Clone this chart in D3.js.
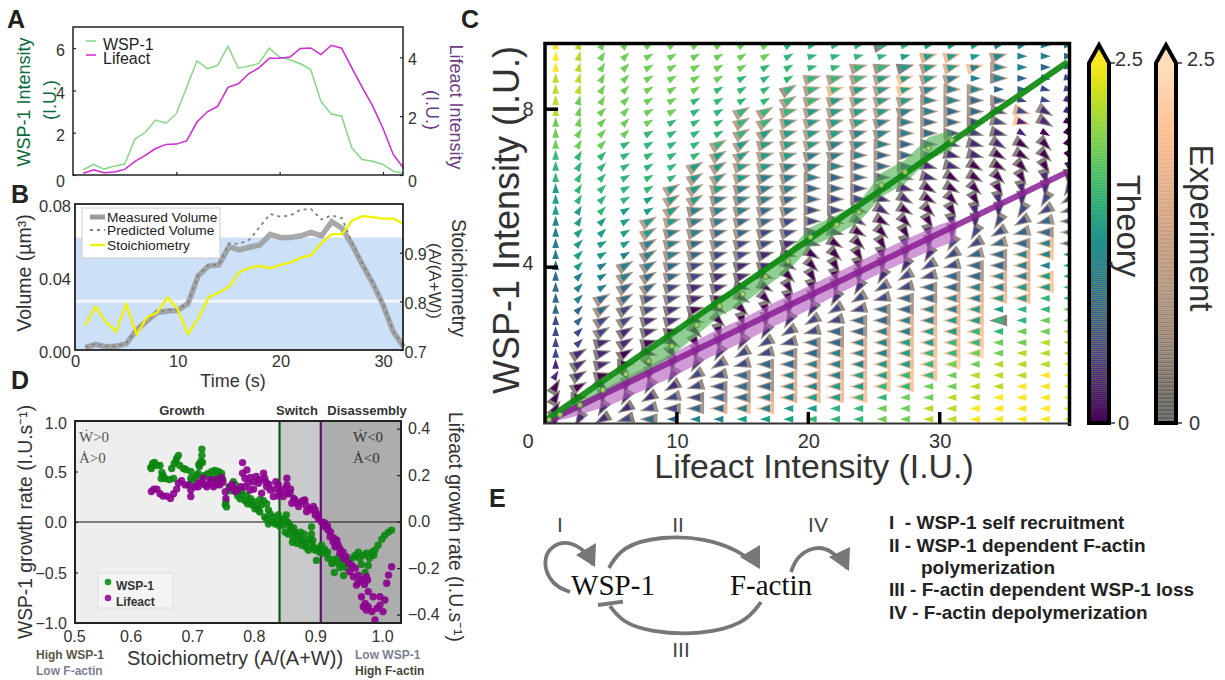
<!DOCTYPE html>
<html>
<head>
<meta charset="utf-8">
<script src="https://cdn.jsdelivr.net/npm/d3@7"></script>
<style>
  body { margin: 0; background: #fff; }
  text { font-family: "Liberation Sans", Arial, sans-serif; }
</style>
</head>
<body>
<div id="chart"></div>
<script>
// --- panel A and B: time in seconds
const time = [1,2,3,4,5,6,7,8,9,10,11,12,13,14,15,16,17,18,19,20,21,22,23,24,25,26,27,28,29,30,31,32];
const wspIntensity = [.25,.5,.28,.42,.52,1.7,2.02,2.6,2.45,2.9,4.15,5.4,5.03,5.18,6.08,5.05,5.15,5.28,6.0,5.58,5.45,5.26,5.0,3.48,2.88,2.78,1.27,.73,.65,.5,.18,.08];
const lifeactIntensity = [.06,.18,.08,.1,.19,.46,.67,.9,1.04,1.05,1.16,1.8,2.15,2.33,2.98,3.1,3.44,3.64,3.97,3.97,4.01,4.3,4.32,4.09,4.41,4.31,3.63,2.98,2.35,1.59,.7,.23];
const measuredVolume = [.0013,.0031,.0018,.002,.0035,.011,.0159,.0206,.0214,.0217,.0254,.0407,.046,.0466,.0566,.0548,.0563,.0575,.0634,.0617,.0617,.0626,.0645,.0626,.0703,.0667,.0575,.0466,.0365,.0247,.01,.0018];
const predictedVolume = [.0015,.0035,.002,.0022,.0038,.0115,.0162,.021,.0218,.0222,.026,.041,.0465,.0468,.0585,.0582,.0605,.0675,.0745,.073,.0738,.077,.0772,.0715,.0738,.0722,.0585,.047,.037,.025,.0102,.0018];
const stoichiometry = [.751,.789,.758,.738,.794,.732,.767,.777,.808,.784,.733,.765,.808,.818,.83,.86,.869,.873,.868,.875,.88,.89,.895,.92,.938,.938,.966,.975,.973,.97,.97,.959];
const stoichShade = [.7, .931];
const stoichGrid = .8;

// --- panel D: [stoichiometry, growth rate]
const wspRate = [[.623,.54],[.626,.58],[.629,.59],[.633,.56],[.638,.56],[.624,.53],[.641,.49],[.64,.43],[.646,.43],[.653,.42],[.66,.43],[.643,.46],[.657,.53],[.661,.58],[.665,.63],[.668,.66],[.664,.6],[.67,.56],[.676,.53],[.68,.52],[.688,.5],[.688,.43],[.689,.4],[.695,.44],[.698,.46],[.702,.55],[.704,.6],[.706,.66],[.706,.72],[.707,.59],[.701,.57],[.716,.48],[.722,.5],[.727,.51],[.733,.5],[.738,.48],[.725,.45],[.73,.43],[.735,.44],[.744,.17],[.746,.15],[.745,.2],[.752,.31],[.757,.4],[.76,.31],[.764,.26],[.768,.23],[.776,.21],[.771,.31],[.779,.26],[.781,.21],[.787,.17],[.792,.13],[.798,.12],[.79,.2],[.803,.17],[.806,.21],[.811,.18],[.814,.12],[.811,.03],[.817,.08],[.814,-.02],[.822,.05],[.825,-.02],[.83,.07],[.827,0],[.835,.02],[.838,-.03],[.843,.07],[.845,0],[.849,-.05],[.841,-.1],[.846,-.12],[.852,-.08],[.854,-.15],[.857,-.1],[.853,-.2],[.86,-.21],[.865,-.17],[.868,-.23],[.872,-.12],[.875,-.25],[.879,-.28],[.884,-.05],[.884,-.12],[.886,-.18],[.887,-.25],[.892,-.38],[.895,-.26],[.9,-.23],[.903,-.31],[.911,-.36],[.917,-.41],[.921,-.5],[.925,-.4],[.93,-.45],[.936,-.53],[.936,-.43],[.946,-.38],[.952,-.35],[.96,-.3],[.962,-.36],[.971,-.5],[.973,-.31],[.976,-.43],[.982,-.3],[.987,-.28],[.992,-.23],[.998,-.17],[1.003,-.13],[1.009,-.1],[1.014,-.08],[.795,.16],[.8,.1],[.808,.05],[.82,0],[.832,-.04],[.84,.03],[.848,-.02],[.855,-.06],[.86,-.13],[.866,-.1],[.87,-.18],[.874,-.2],[.88,-.17],[.885,-.22],[.89,-.28],[.897,-.3],[.905,-.27],[.91,-.3],[.92,-.37],[.928,-.35],[.935,-.38],[.94,-.45],[.948,-.42],[.955,-.33],[.965,-.42],[.968,-.33],[.978,-.36],[.985,-.33],[.7,.48],[.71,.46],[.72,.42],[.74,.42],[.75,.35],[.76,.37],[.77,.27],[.78,.18],[.785,.23],[.8,.22]];
const lifeactRate = [[.624,.13],[.628,.14],[.633,.14],[.638,.12],[.643,.11],[.649,.11],[.655,.1],[.66,.12],[.665,.14],[.668,.165],[.673,.176],[.679,.158],[.684,.158],[.688,.136],[.688,.108],[.695,.15],[.7,.165],[.708,.187],[.714,.15],[.719,.165],[.725,.15],[.73,.18],[.735,.158],[.738,.19],[.744,.129],[.745,.1],[.752,.15],[.757,.143],[.764,.136],[.769,.15],[.772,.254],[.772,.208],[.776,.187],[.779,.222],[.781,.165],[.784,.136],[.79,.172],[.794,.194],[.798,.165],[.803,.122],[.806,.208],[.808,.187],[.811,.15],[.817,.136],[.822,.108],[.826,.172],[.83,.158],[.833,.129],[.838,.108],[.844,.187],[.844,.158],[.849,.122],[.852,.079],[.857,.093],[.863,.065],[.868,.086],[.873,.093],[.876,.043],[.881,.057],[.887,.065],[.89,.029],[.895,.014],[.9,0],[.906,-.022],[.911,-.036],[.914,-.065],[.919,-.086],[.922,-.108],[.927,-.1],[.93,-.136],[.936,-.158],[.944,-.179],[.946,-.215],[.952,-.237],[.957,-.273],[.96,-.23],[.965,-.323],[.975,-.251],[.973,-.237],[.976,-.301],[.968,-.366],[.973,-.38],[.982,-.387],[.99,-.373],[.995,-.359],[1,-.387],[.987,-.423],[.984,-.323],[.995,-.323],[1.003,-.337],[1.006,-.265],[1.009,-.23],[1.014,-.194],[.976,-.366],[.971,-.352],[.7,.15],[.705,.17],[.71,.16],[.72,.18],[.73,.16],[.74,.17],[.755,.16],[.76,.13],[.775,.15],[.785,.19],[.79,.14],[.8,.18],[.81,.17],[.815,.16],[.825,.14],[.83,.11],[.84,.14],[.845,.12],[.85,.14],[.855,.1],[.86,.08],[.87,.09],[.875,.07],[.885,.05],[.89,.05],[.895,.03],[.905,-.005],[.91,-.02],[.915,-.045],[.92,-.07],[.925,-.08],[.93,-.115],[.935,-.13],[.94,-.15],[.95,-.19],[.955,-.2],[.96,-.26],[.965,-.25],[.97,-.27]];
const phaseEdges = [.5, .832, .899, 1.03];
const phaseNames = ['Growth', 'Switch', 'Disassembly'];

const gridLifeact = [.81,2.59,4.36,6.13,7.91,9.68,11.46,13.23,15,16.78,18.55,20.33,22.1,23.87,25.65,27.42,29.2,30.97,32.74,34.52,36.29,38.07,39.84];
const gridWsp = [9.61,9.33,9.05,8.77,8.49,8.21,7.93,7.66,7.38,7.1,6.82,6.54,6.26,5.98,5.71,5.43,5.15,4.87,4.59,4.31,4.03,3.76,3.48,3.2,2.92,2.64,2.36,2.08,1.81,1.53,1.25,.97,.69,.41,.14];

// one string per row, top to bottom: colour level 0-9 of the theory arrow
const theoryLevel = [
  "98777777776666665554444","98777777776666655554443","98777777766666655544433","88777777666666555444332",
  "88777776666665554443322","87777766666655554433221","87777766666555544332211","77777666665555443322110",
  "77776666655554443221100","77766666555544432211000","66666665555444332110000","66666655554443321100001",
  "66666655544433221000011","56666555444332210000112","56665554443322110001122","55655544433221100011223",
  "45555544332211000112233","45555443322110001122334","45554433221100011223344","45544432211000011233444",
  "35444322110000112233445","34443321100001122334455","34433211000011223344556","34332210000112233445566",
  "33322100001122334455667","23221100011223344556677","22211000112233445566778","22110001122334455667788",
  "21100011223344456677888","11100112233444556778889","11000122334445566788899","00001122334455667788999",
  "00011223344556677889999","00112233445566778899999","01123344555666778899999"
];
// same layout for the experiment arrows, "." = no measurement in that cell
const experimentLevel = [
  "..............1........","................56.4...",".............4314574...","...........4444744.2...",
  "..........346447444....","..........4444443333...","........44444443333252.","........44444433332271.",
  "........444443333221...",".......444443333221111.",".......444433333211111.","......4444333332111111.",
  "......44433333221111111",".....444333332211111112",".....443333322111111122",".....433333221111111223",
  "....4433332211111112233","....4333322111111122335","....3333221111111223364","....333221111111123357.",
  "...333221111111122335..","...3332111111112233557.","...3321111111122335567.","..3322111111122335566..",
  "..32211111112233556....","..221111111223355661...","..21111111223355667....","..11111112233556677....",
  ".111111122335556778....",".11111122335556678.....",".1111122335556677......","1111112233556677.......",
  "11111223355667.........","1111223566.............","11112.................."
];
// position of each experiment level on the colour bar
const experimentShade = [.07,.14,.22,.3,.38,.62,.72,.8,.9,.98];
// one string per column, top to bottom: direction, a = east, then 15 degree steps counter clockwise
const theoryDirection = [
  "ggggggggggggggggggggggggggggggeeeed","ffffffffeeeeeeeeedddddddddddccccatq","eeeeeeddddddddddddcccccccccbbbbvsqo",
  "dddddddddccccccccccccccccccccausqon","cccccccccccccccccccccccbbbbbxusqonm","ccccccccccccccccbbbbbbbbbbbwusqonmm",
  "cccccccccccccccbbbbbbbbbbxvusqonmmm","cccccccccccccbbbbbbbbbbbwvtsqonmmmm","cccccccccccbbbbbbbbbbbxwvtsqonmmmmm",
  "cccccccccbbbbbbbbbbbbxwvtsqonmmmmmm","ccccccbbbbbbbbbbbbbxwvutsqonmmmmmmm","bbbbbbbbbbbbaaaaaaxwvutsqonmmmmmmmm",
  "bbbbbbbbbbbaaaaaxxwvutsqonmmmmmmmmm","bbbbbbbbbbaaaaaxwwvutsqonmmmmmmmmmm","bbbbbbbbbaaaaaxwwvutsqonmmmmmmmmmmm",
  "bbbbbbbaaaaaxxwwvutsqonmmmmmmmmmmmm","bbbbbaaaaaaxxwwvutsqonmmmmmmmmmmmmm","bbbbaaaaaxxxwwvutsqonmmmmmmmmmmmmmm",
  "bbbaaaaaxxxwwvutsqonmmmmmmmmmmmmmmm","bbaaaaxxxwwwvutsqonmmmmmmmmmmmmmmmm","baaaaxxxwwwvutsqonmmmmmmmmmmmmmmmmm",
  "aaaxxxwwwvvutsqonmmmmmmmmmmmmmmmmmm","aaxxxwwwvvutsqonmmmmmmmmmmmmmmmmmmm"
];

// fitted lines and measured mean trajectories
const wspFitLine = [[.08,.12],[39.77,9.18]];
const lifeactFitLine = [[.08,.07],[39.77,6.4]];
const wspMeanX = [.3,1.14,2.66,4.41,6.16,7.91,9.66,11.56,13.3,15.06,16.8,18.5,20.2,22.2,23.9,25.6,27.4,29.2,30.95];
const wspMeanY = [.13,.25,.5,.88,1.28,1.61,1.99,2.52,3,3.31,3.74,4.14,4.75,5.06,5.38,6.07,6.4,7,7.21];
const wspMeanSd = [.03,.07,.12,.17,.22,.25,.25,.25,.25,.25,.25,.25,.25,.25,.25,.3,.3,.28,.25];
const lifeactMeanX = [.3,2,5,7.5,10,12.5,15,17.5,20,22.5,25,27.5,30,31.3];
const lifeactMeanY = [.08,.3,.75,1.15,1.55,2,2.38,2.8,3.2,3.62,4.03,4.42,4.78,4.93];
const lifeactMeanSd = [.03,.12,.25,.28,.3,.3,.3,.3,.3,.28,.28,.28,.28,.28];

const remarks = ['I  - WSP-1 self recruitment', 'II - WSP-1 dependent F-actin', 'polymerization', 'III - F-actin dependent WSP-1 loss', 'IV - F-actin depolymerization'];

const svg = d3.select('#chart').append('svg').attr('width', 1225).attr('height', 680);
const inkColor = '#333';

function label(x, y, str, size, opts = {}) {
  const t = svg.append('text')
    .attr('transform', `translate(${x},${y}) rotate(${opts.rotate || 0})`)
    .attr('font-size', size)
    .attr('font-weight', opts.weight || 'normal')
    .attr('text-anchor', opts.anchor || 'start')
    .attr('fill', opts.color || inkColor)
    .text(str);
  if (opts.family) t.style('font-family', opts.family);
  return t;
}

function finishAxis(g, size) {
  g.select('.domain').remove();
  g.selectAll('line').attr('stroke', '#222').attr('stroke-width', 1.2);
  g.selectAll('text').attr('font-size', size).attr('fill', inkColor);
  return g;
}

function frame(x0, y0, x1, y1, width) {
  svg.append('rect').attr('x', x0).attr('y', y0).attr('width', x1 - x0).attr('height', y1 - y0)
    .attr('fill', 'none').attr('stroke', '#222').attr('stroke-width', width);
}

// panel letters
[['A', 7, 28], ['B', 11, 203], ['C', 461, 28], ['D', 11, 389], ['E', 489, 507]].forEach(d => {
  label(d[1], d[2], d[0], 25, { weight: 'bold', color: '#222' });
});

// ---------- panel A
{
  const x = d3.scaleLinear().domain([0, 32]).range([73, 403.6]);
  const yL = d3.scaleLinear().domain([0, 7]).range([175, 27]);
  const yR = d3.scaleLinear().domain([0, 5.03]).range([175, 27]);

  finishAxis(svg.append('g').attr('transform', 'translate(0,175)')
    .call(d3.axisBottom(x).tickValues([10, 20, 30]).tickSizeInner(-3).tickFormat('')), 16);
  const left = finishAxis(svg.append('g').attr('transform', 'translate(73,0)')
    .call(d3.axisLeft(yL).tickValues([0, 2, 4, 6]).tickSizeInner(-3).tickPadding(8).tickFormat(d3.format('d'))), 16);
  left.selectAll('.tick text').attr('dy', d => d === 0 ? '.72em' : '.48em');
  const right = finishAxis(svg.append('g').attr('transform', 'translate(403,0)')
    .call(d3.axisRight(yR).tickValues([0, 2, 4]).tickSizeInner(-3).tickPadding(5).tickFormat(d3.format('d'))), 16);
  right.selectAll('.tick text').attr('dy', d => d === 0 ? '.72em' : '.45em');

  const lineL = d3.line().x((d, i) => x(time[i])).y(d => yL(d));
  const lineR = d3.line().x((d, i) => x(time[i])).y(d => yR(d));
  svg.append('path').attr('d', lineL(wspIntensity)).attr('fill', 'none').attr('stroke', '#86d686').attr('stroke-width', 1.5);
  svg.append('path').attr('d', lineR(lifeactIntensity)).attr('fill', 'none').attr('stroke', '#d126d1').attr('stroke-width', 1.5);
  frame(73, 27, 403, 175, 1.5);

  svg.append('line').attr('x1', 86).attr('x2', 96).attr('y1', 41).attr('y2', 41).attr('stroke', '#86d686').attr('stroke-width', 1.5);
  svg.append('line').attr('x1', 86).attr('x2', 96).attr('y1', 55).attr('y2', 55).attr('stroke', '#d126d1').attr('stroke-width', 1.5);
  label(103, 50, 'WSP-1', 16, { color: '#222' });
  label(103, 64, 'Lifeact', 16, { color: '#222' });

  label(30, 102, 'WSP-1 Intensity', 18, { rotate: -90, anchor: 'middle', color: '#0a6a38' });
  label(56, 100, '(I.U.)', 18, { rotate: -90, anchor: 'middle', color: '#0a6a38' });
  label(450, 107, 'Lifeact Intensity', 18, { rotate: 90, anchor: 'middle', color: '#6b3b82' });
  label(426, 110, '(I.U.)', 18, { rotate: 90, anchor: 'middle', color: '#6b3b82' });
}

// ---------- panel B
{
  const x = d3.scaleLinear().domain([0, 32]).range([75, 403.6]);
  const yL = d3.scaleLinear().domain([0, .08]).range([350, 204]);
  const yR = d3.scaleLinear().domain([.7, 1]).range([350, 204]);

  svg.append('rect').attr('x', 75).attr('width', 328).attr('y', yR(stoichShade[1]))
    .attr('height', yR(stoichShade[0]) - yR(stoichShade[1])).attr('fill', '#cce0f8');
  svg.append('line').attr('x1', 75).attr('x2', 403).attr('y1', yR(stoichGrid)).attr('y2', yR(stoichGrid))
    .attr('stroke', '#f2f6fb').attr('stroke-width', 3);

  const lineL = d3.line().x((d, i) => x(time[i])).y(d => yL(d));
  const lineR = d3.line().x((d, i) => x(time[i])).y(d => yR(d));
  svg.append('path').attr('d', lineL(measuredVolume)).attr('fill', 'none').attr('stroke', '#9a9a9a').attr('stroke-opacity', .85).attr('stroke-width', 5.5);
  svg.append('path').attr('d', lineL(predictedVolume)).attr('fill', 'none').attr('stroke', '#808080').attr('stroke-width', 1.8).attr('stroke-dasharray', '3,4');
  svg.append('path').attr('d', lineR(stoichiometry)).attr('fill', 'none').attr('stroke', '#f0f200').attr('stroke-width', 2.3);

  finishAxis(svg.append('g').attr('transform', 'translate(0,350)')
    .call(d3.axisBottom(x).tickValues([0, 10, 20, 30]).tickSize(0).tickPadding(5)), 16.5);
  const left = finishAxis(svg.append('g').attr('transform', 'translate(75,0)')
    .call(d3.axisLeft(yL).tickValues([0, .04, .08]).tickSize(0).tickPadding(4).tickFormat(d3.format('.2f'))), 16.5);
  left.selectAll('.tick text').attr('dy', '.45em');
  const right = finishAxis(svg.append('g').attr('transform', 'translate(403,0)')
    .call(d3.axisRight(yR).tickValues([.7, .8, .9]).tickSizeInner(-3).tickPadding(1.5).tickFormat(d3.format('.1f'))), 16);
  right.selectAll('.tick text').attr('dy', '.45em');

  svg.append('rect').attr('x', 82).attr('y', 208).attr('width', 138).attr('height', 50)
    .attr('fill', '#fff').attr('stroke', '#ccc');
  svg.append('line').attr('x1', 90).attr('x2', 105).attr('y1', 217).attr('y2', 217).attr('stroke', '#9a9a9a').attr('stroke-width', 5);
  svg.append('line').attr('x1', 90).attr('x2', 105).attr('y1', 230).attr('y2', 230).attr('stroke', '#808080').attr('stroke-width', 1.8).attr('stroke-dasharray', '3,4');
  svg.append('line').attr('x1', 90).attr('x2', 105).attr('y1', 245).attr('y2', 245).attr('stroke', '#f0f200').attr('stroke-width', 2.3);
  label(107, 222, 'Measured Volume', 13.7, { color: '#222' });
  label(107, 235, 'Predicted Volume', 13.7, { color: '#222' });
  label(107, 250, 'Stoichiometry', 13.7, { color: '#222' });
  frame(75, 204, 403, 350, 1.8);

  label(31, 273, 'Volume (µm³)', 19.5, { rotate: -90, anchor: 'middle' });
  label(233, 387, 'Time (s)', 18, { anchor: 'middle' });
  label(452, 278, 'Stoichiometry', 19.5, { rotate: 90, anchor: 'middle' });
  label(429, 281, '(A/(A+W))', 17, { rotate: 90, anchor: 'middle' });
}

// ---------- panel D
{
  const x = d3.scaleLinear().domain([.5, 1]).range([75, 383]);
  const yL = d3.scaleLinear().domain([-1, 1]).range([623, 421]);
  const yR = d3.scaleLinear().domain([-.436, .433]).range([623, 421]);
  const greys = ['#eeeeee', '#c9c9c9', '#adadad'];

  phaseNames.forEach((name, i) => {
    svg.append('rect').attr('x', x(phaseEdges[i])).attr('width', x(phaseEdges[i + 1]) - x(phaseEdges[i]))
      .attr('y', 421).attr('height', 202).attr('fill', greys[i]);
  });
  svg.append('line').attr('x1', 75).attr('x2', 401).attr('y1', yL(0)).attr('y2', yL(0)).attr('stroke', '#111').attr('stroke-width', 1.2);
  svg.append('line').attr('x1', x(phaseEdges[1])).attr('x2', x(phaseEdges[1])).attr('y1', 421).attr('y2', 623).attr('stroke', '#0b5c14').attr('stroke-width', 2.2);
  svg.append('line').attr('x1', x(phaseEdges[2])).attr('x2', x(phaseEdges[2])).attr('y1', 421).attr('y2', 623).attr('stroke', '#5f0f6f').attr('stroke-width', 2.2);

  label(182, 415, phaseNames[0], 13, { weight: 'bold', anchor: 'middle' });
  label(297, 415, phaseNames[1], 13, { weight: 'bold', anchor: 'middle' });
  label(367, 415, phaseNames[2], 13, { weight: 'bold', anchor: 'middle' });

  svg.append('g').selectAll('circle').data(wspRate).enter().append('circle')
    .attr('cx', d => x(d[0])).attr('cy', d => yL(d[1])).attr('r', 3.7)
    .attr('fill', '#0a860f').attr('fill-opacity', .9);
  svg.append('g').selectAll('circle').data(lifeactRate).enter().append('circle')
    .attr('cx', d => x(d[0])).attr('cy', d => yR(d[1])).attr('r', 3.7)
    .attr('fill', '#8b008f').attr('fill-opacity', .9);

  const serif = '"Liberation Serif", serif';
  label(79, 442, 'Ẇ>0', 15, { family: serif, color: '#555' });
  label(79, 463, 'Ȧ>0', 15, { family: serif, color: '#555' });
  label(353, 442, 'Ẇ<0', 15, { family: serif, color: '#333' });
  label(353, 463, 'Ȧ<0', 15, { family: serif, color: '#333' });

  svg.append('rect').attr('x', 98).attr('y', 573).attr('width', 75).attr('height', 35)
    .attr('fill', '#f4f4f4').attr('stroke', '#ddd');
  svg.append('circle').attr('cx', 108).attr('cy', 582).attr('r', 3.3).attr('fill', '#1f9a2f');
  svg.append('circle').attr('cx', 108).attr('cy', 598).attr('r', 3.3).attr('fill', '#a020a0');
  label(116, 590, 'WSP-1', 12, { weight: 'bold', color: '#333' });
  label(116, 606, 'Lifeact', 12, { weight: 'bold', color: '#333' });

  const bottom = finishAxis(svg.append('g').attr('transform', 'translate(0,623)')
    .call(d3.axisBottom(x).tickValues([.5, .6, .7, .8, .9, 1]).tickSize(0).tickPadding(8).tickFormat(d3.format('.1f'))), 16);
  bottom.selectAll('.tick text').attr('dx', d => (d > .5 && d < 1) ? -6 : -1);
  const left = finishAxis(svg.append('g').attr('transform', 'translate(75,0)')
    .call(d3.axisLeft(yL).tickValues([-1, -.5, 0, .5, 1]).tickSizeInner(-3).tickPadding(8).tickFormat(d3.format('.1f'))), 16);
  left.selectAll('.tick text').attr('dy', d => d === 1 ? '.45em' : '.35em');
  finishAxis(svg.append('g').attr('transform', 'translate(401,0)')
    .call(d3.axisRight(yR).tickValues([-.4, -.2, 0, .2, .4]).tickSizeInner(-4).tickPadding(7).tickFormat(d3.format('.1f'))), 16);
  frame(75, 421, 401, 623, 2);

  label(32, 522, 'WSP-1 growth rate (I.U.s⁻¹)', 19.3, { rotate: -90, anchor: 'middle' });
  label(449, 527, 'Lifeact growth rate (I.U.s⁻¹)', 19.3, { rotate: 90, anchor: 'middle' });
  label(235, 665, 'Stoichiometry (A/(A+W))', 20, { anchor: 'middle' });
  label(36, 659, 'High WSP-1', 12, { weight: 'bold', color: '#5c5648' });
  label(36, 675, 'Low F-actin', 12, { weight: 'bold', color: '#7a8092' });
  label(355, 659, 'Low WSP-1', 12, { weight: 'bold', color: '#7a8092' });
  label(355, 675, 'High F-actin', 12, { weight: 'bold', color: '#4a4438' });
}

// ---------- panel C
{
  const x = d3.scaleLinear().domain([0, 39.8]).range([545, 1068]);
  const y = d3.scaleLinear().domain([0, 10]).range([424.7, 29.7]);
  const experimentColor = d3.scaleLinear()
    .domain([.07, .26, .44, .63, .81, .98])
    .range(['#606060', '#907f72', '#b89880', '#dba785', '#ffbb90', '#ffdeb9'])
    .clamp(true);

  svg.append('clipPath').attr('id', 'fieldClip').append('rect')
    .attr('x', 545).attr('y', 43).attr('width', 524).attr('height', 380);
  const field = svg.append('g').attr('clip-path', 'url(#fieldClip)');

  const cells = [];
  gridWsp.forEach((w, r) => {
    gridLifeact.forEach((a, c) => {
      cells.push({ a, w, turn: (theoryDirection[c].charCodeAt(r) - 97) * 15, theory: +theoryLevel[r][c], measured: experimentLevel[r][c] });
    });
  });
  const place = d => `translate(${x(d.a)},${y(d.w)}) rotate(${-d.turn})`;

  field.append('g').selectAll('path').data(cells.filter(d => d.measured !== '.')).enter().append('path')
    .attr('d', 'M9.5,0L-8.5,5.8L-8.5,-5.8Z')
    .attr('transform', place)
    .attr('fill', d => experimentColor(experimentShade[+d.measured]))
    .attr('fill-opacity', .85);
  field.append('g').selectAll('path').data(cells).enter().append('path')
    .attr('d', 'M5.5,0L-4.5,3.4L-4.5,-3.4Z')
    .attr('transform', place)
    .attr('fill', d => d3.interpolateViridis(d.theory / 9));

  // mean trajectories with their spread
  const band = (xs, ys, sds) => d3.area()
    .x((d, i) => x(xs[i]))
    .y0((d, i) => y(ys[i] - sds[i]))
    .y1((d, i) => y(ys[i] + sds[i]))(xs);
  field.append('path').attr('d', band(lifeactMeanX, lifeactMeanY, lifeactMeanSd)).attr('fill', '#b25cbc').attr('fill-opacity', .62);
  field.append('path').attr('d', band(wspMeanX, wspMeanY, wspMeanSd)).attr('fill', '#4cae50').attr('fill-opacity', .62);

  const fit = d3.line().x(d => x(d[0])).y(d => y(d[1]));
  field.append('path').attr('d', fit(lifeactFitLine)).attr('stroke', '#8a1e94').attr('stroke-opacity', .85).attr('stroke-width', 6);
  field.append('path').attr('d', fit(wspFitLine)).attr('stroke', '#0e8a10').attr('stroke-opacity', .92).attr('stroke-width', 6);
  field.append('g').selectAll('circle').data(wspMeanX).enter().append('circle')
    .attr('cx', d => x(d)).attr('cy', (d, i) => y(wspMeanY[i])).attr('r', 2.6)
    .attr('fill', '#b8cc6a').attr('stroke', '#3f9a3f').attr('stroke-width', 1).attr('fill-opacity', .9);

  // spines: thick on three sides, thin at the bottom
  svg.append('path').attr('d', 'M545,423.5V43.5H1069.5V426').attr('fill', 'none').attr('stroke', '#000').attr('stroke-width', 3.5);
  svg.append('line').attr('x1', 543).attr('x2', 1071).attr('y1', 423.5).attr('y2', 423.5).attr('stroke', '#333').attr('stroke-width', 1.8);

  svg.append('g').attr('transform', 'translate(0,424)')
    .call(d3.axisBottom(x).tickValues([10, 20, 30]).tickSize(-12).tickFormat(''))
    .call(g => g.select('.domain').remove())
    .call(g => g.selectAll('line').attr('stroke', '#000').attr('stroke-width', 3.5));
  svg.append('g').attr('transform', 'translate(545,0)')
    .call(d3.axisLeft(y).tickValues([4, 8]).tickSize(-13).tickFormat(''))
    .call(g => g.select('.domain').remove())
    .call(g => g.selectAll('line').attr('stroke', '#000').attr('stroke-width', 3.5));

  label(528, 448, '0', 20, { anchor: 'middle' });
  [10, 20, 30].forEach(v => label(x(v) + 1, 448, v, 20, { anchor: 'middle' }));
  label(528, 116, '8', 20, { anchor: 'middle' });
  label(528, 270, '4', 20, { anchor: 'middle' });

  label(519, 220, 'WSP-1 Intensity (I.U.)', 36, { rotate: -90, anchor: 'middle' });
  label(814, 478, 'Lifeact Intensity (I.U.)', 33.8, { anchor: 'middle' });

  // colour bars
  const colorBar = (x0, colorOf, stripes) => {
    const x1 = x0 + 20;
    const xm = (x0 + x1) / 2;
    const outline = `M${x0},423V63L${xm},45L${x1},63V423Z`;
    svg.append('path').attr('d', outline).attr('fill', colorOf(1));
    const levels = d3.range(0, 1, 1 / 181);
    svg.append('g').selectAll('rect').data(levels).enter().append('rect')
      .attr('x', x0).attr('width', 20)
      .attr('y', d => 423 - d * 360 - 2).attr('height', 2)
      .attr('fill', d => colorOf(d))
      .attr('fill-opacity', (d, i) => stripes && i % 2 ? .82 : 1);
    svg.append('path').attr('d', outline).attr('fill', 'none').attr('stroke', '#000').attr('stroke-width', 4);
    svg.append('line').attr('x1', x1 + 2).attr('x2', x1 + 6).attr('y1', 63).attr('y2', 63).attr('stroke', '#000').attr('stroke-width', 1.2);
    svg.append('line').attr('x1', x1 + 2).attr('x2', x1 + 6).attr('y1', 423).attr('y2', 423).attr('stroke', '#000').attr('stroke-width', 1.2);
  };
  colorBar(1089, d3.interpolateViridis, false);
  colorBar(1156, experimentColor, true);

  label(1115, 66, '2.5', 20);
  label(1118, 430, '0', 20);
  label(1187, 66, '2.5', 20);
  label(1189, 430, '0', 20);
  label(1117, 226, 'Theory', 33, { rotate: 90, anchor: 'middle' });
  label(1190, 228, 'Experiment', 33, { rotate: 90, anchor: 'middle' });
}

// ---------- panel E
{
  const arrowGrey = '#777';
  const serif = '"Liberation Serif", serif';
  label(613, 595, 'WSP-1', 29, { family: serif, anchor: 'middle', color: '#111' });
  label(771, 595, 'F-actin', 29, { family: serif, anchor: 'middle', color: '#111' });

  const curve = d3.line().curve(d3.curveBasis);
  const arcs = [
    [[570, 592], [552, 585], [542, 562], [552, 544], [572, 541], [590, 556], [593, 565]],
    [[609, 568], [622, 546], [662, 536], [705, 538], [740, 551], [758, 566]],
    [[761, 602], [745, 624], [700, 635], [650, 632], [622, 622], [610, 606]],
    [[791, 572], [797, 556], [815, 546], [832, 550], [847, 568]]
  ];
  arcs.forEach(a => {
    svg.append('path').attr('d', curve(a)).attr('fill', 'none').attr('stroke', arrowGrey).attr('stroke-width', 3.8);
  });
  const heads = [
    [[595, 567], [576, 555], [596, 543]],
    [[760, 569], [740, 557], [760, 545]],
    [[849, 571], [829, 557], [850, 547]]
  ];
  heads.forEach(h => {
    svg.append('path').attr('d', d3.line()(h) + 'Z').attr('fill', arrowGrey);
  });
  svg.append('line').attr('x1', 598).attr('y1', 605).attr('x2', 623).attr('y2', 601.7).attr('stroke', arrowGrey).attr('stroke-width', 3.8);

  label(560, 532, 'I', 21, { anchor: 'middle', color: '#444' });
  label(678, 532, 'II', 21, { anchor: 'middle', color: '#444' });
  label(818, 532, 'IV', 21, { anchor: 'middle', color: '#444' });
  label(681, 657, 'III', 21, { anchor: 'middle', color: '#444' });

  const rows = [529, 552, 574, 596, 619];
  remarks.forEach((text, i) => {
    label(i === 2 ? 921 : 889, rows[i], text, 19, { weight: 'bold', color: '#222' }).style('white-space', 'pre');
  });
}
</script>
</body>
</html>
